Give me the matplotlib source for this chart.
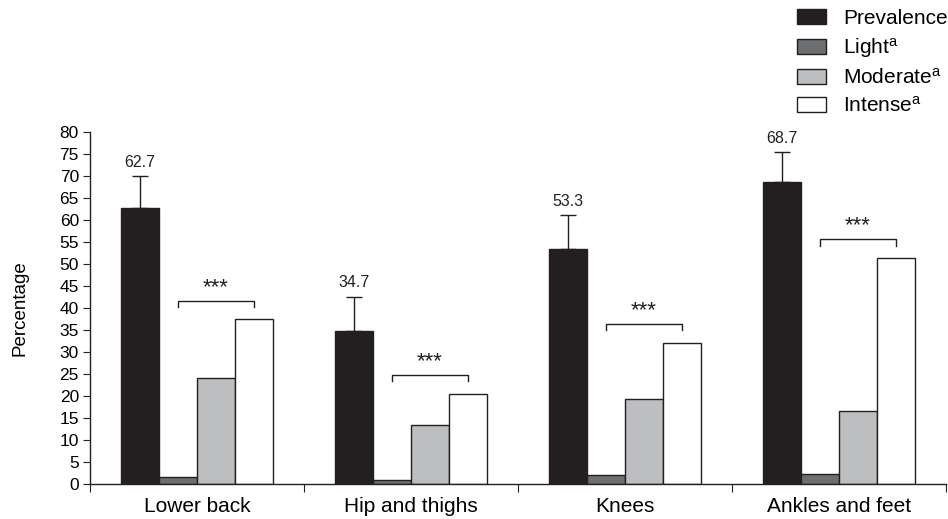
import matplotlib
matplotlib.use("Agg")
import matplotlib.pyplot as plt
import numpy as np
from matplotlib.patches import Patch

plt.rcParams['font.family'] = ['Liberation Sans', 'DejaVu Sans']
plt.rcParams['mathtext.fontset'] = 'custom'
plt.rcParams['mathtext.rm'] = 'Liberation Sans'
plt.rcParams['mathtext.it'] = 'Liberation Sans:italic'

categories = ["Lower back", "Hip and thighs", "Knees", "Ankles and feet"]
series_names = ["Prevalence", "Light$^{\\mathrm{a}}$", "Moderate$^{\\mathrm{a}}$", "Intense$^{\\mathrm{a}}$"]
prevalence = [62.7, 34.7, 53.3, 68.7]
prevalence_err = [7.2, 7.9, 7.8, 6.8]
light = [1.5, 0.8, 2.0, 2.2]
moderate = [24.0, 13.3, 19.3, 16.7]
intense = [37.4, 20.5, 32.0, 51.3]
bracket_y = [41.7, 24.8, 36.4, 55.6]
sig_labels = ["***", "***", "***", "***"]
yticks = list(range(0, 81, 5))

colors = ["#231f20", "#6d6e70", "#bcbec0", "#ffffff"]
edge = "#231f20"

fig = plt.figure(figsize=(9.48, 5.19), dpi=100)
ax = fig.add_axes([90/948, (519-484)/519, 856/948, (484-132)/519])

bw = 0.177
x = np.arange(len(categories)) + 0.5
offsets = np.array([-1.5, -0.5, 0.5, 1.5]) * bw
data = [prevalence, light, moderate, intense]
for i, (vals, c) in enumerate(zip(data, colors)):
    ax.bar(x + offsets[i], vals, width=bw, color=c, edgecolor=edge, linewidth=1.0,
           zorder=2)

# error bars (upper only)
ax.errorbar(x + offsets[0], prevalence, yerr=[np.zeros(4), prevalence_err], fmt='none',
            ecolor=edge, elinewidth=1.0, capsize=6, capthick=1.0, zorder=3)
for xi, v, e in zip(x + offsets[0], prevalence, prevalence_err):
    ax.text(xi, v + e + 1.4, f"{v:.1f}", ha='center', va='bottom', fontsize=11.5, color=edge)

# significance brackets
for xi, by, s in zip(x, bracket_y, sig_labels):
    x1 = xi + offsets[1]
    x2 = xi + offsets[3]
    ax.plot([x1, x1, x2, x2], [by - 1.5, by, by, by - 1.5], color=edge, lw=1.0, zorder=3)
    ax.text((x1 + x2) / 2, by + 3.0, s, ha='center', va='center', fontsize=16, color=edge)

ax.set_xlim(0, 4)
ax.set_ylim(0, 80)
ax.set_yticks(yticks)
ax.set_yticklabels([str(t) for t in yticks], fontsize=12.5)
ax.set_xticks(np.arange(0, 5))
ax.set_xticklabels([])
ax.set_xticks(x, minor=True)
ax.set_xticklabels(categories, minor=True, fontsize=15)
ax.tick_params(axis='x', which='minor', length=0, pad=9)
ax.tick_params(axis='x', which='major', length=6, direction='out', color=edge)
ax.tick_params(axis='y', length=5, direction='out', color=edge, pad=3)
for sp in ['top', 'right']:
    ax.spines[sp].set_visible(False)
for sp in ['left', 'bottom']:
    ax.spines[sp].set_color(edge)
    ax.spines[sp].set_linewidth(1.0)
ax.set_ylabel("Percentage", fontsize=13.5, labelpad=22)

handles = [Patch(facecolor=c, edgecolor=edge, linewidth=1.0) for c in colors]
fig.legend(handles, series_names, loc='upper left', bbox_to_anchor=(797/948, 1 - 9/519),
           frameon=False, fontsize=15, handlelength=1.4, handleheight=0.75,
           handletextpad=0.8, labelspacing=0.38, borderpad=0, borderaxespad=0)

fig.savefig("out.png", dpi=100)
